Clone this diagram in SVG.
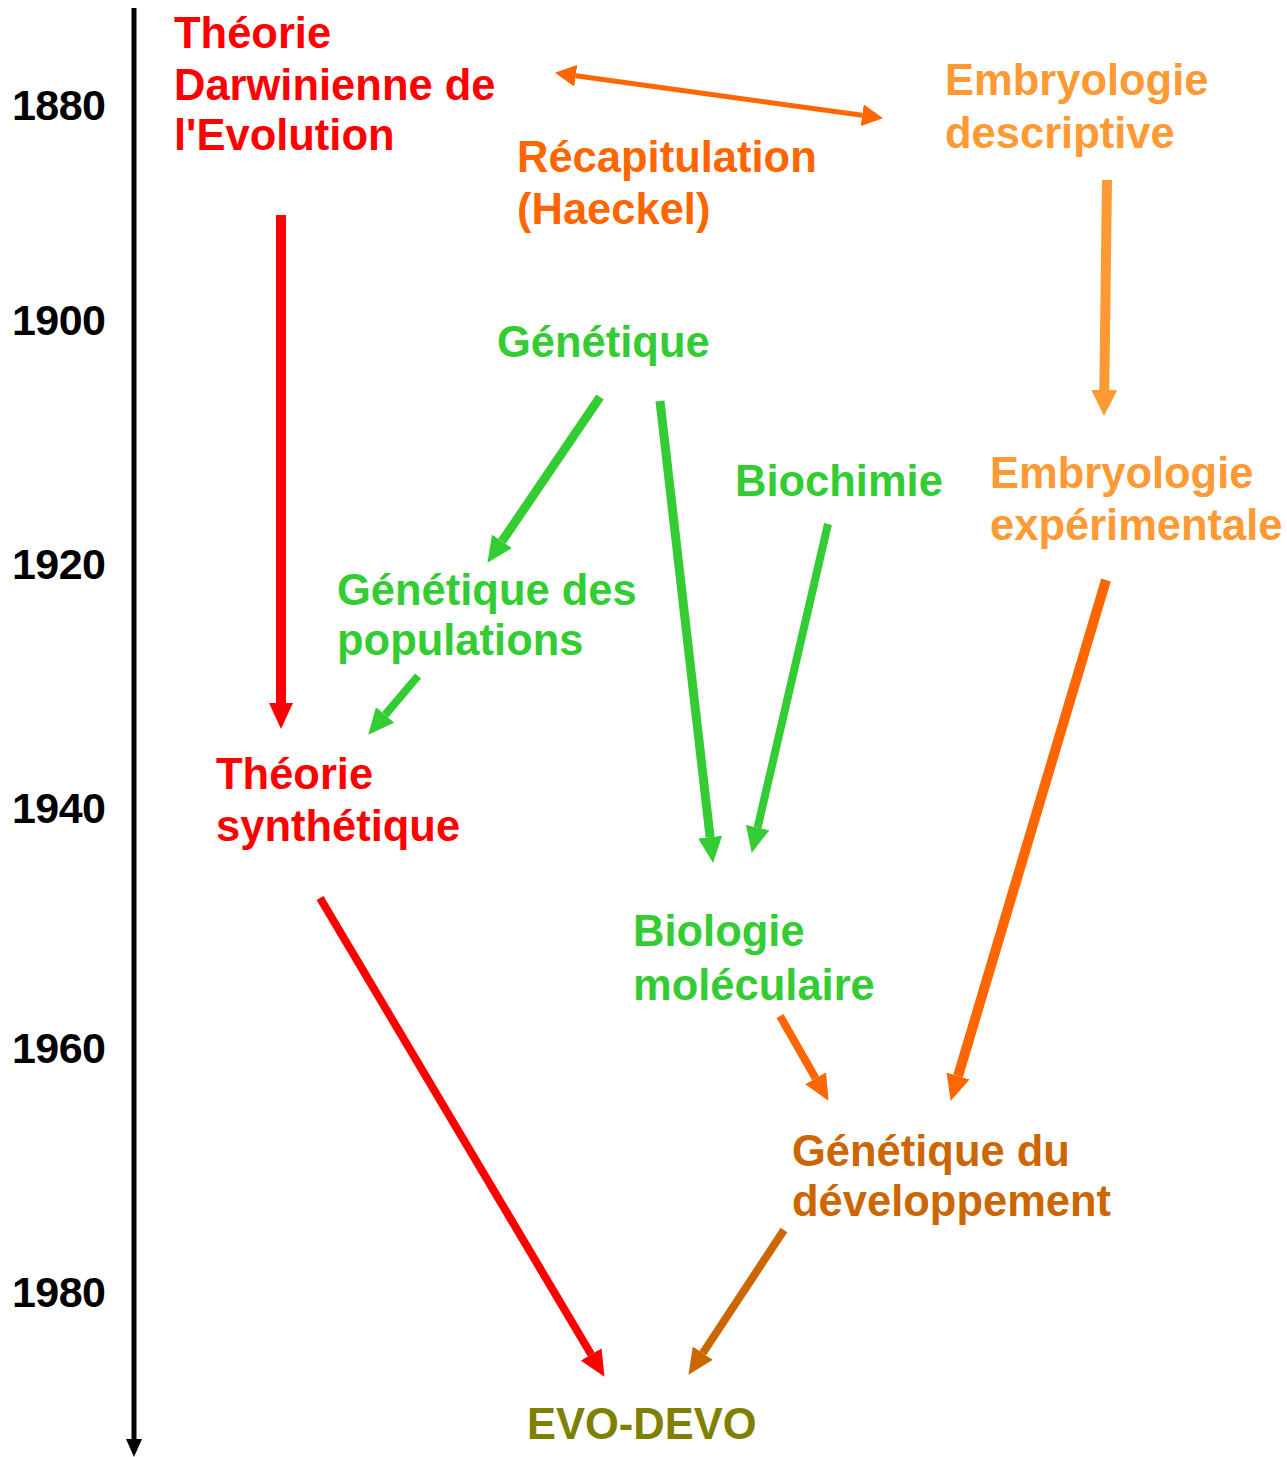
<svg xmlns="http://www.w3.org/2000/svg" width="1287" height="1457" viewBox="0 0 1287 1457">
<style>
text{font-family:"Liberation Sans",Arial,Helvetica,sans-serif;font-weight:bold;font-size:43.5px;letter-spacing:0px}
.yr{font-size:43px;letter-spacing:-0.6px}
.red{fill:#FF0000}.org{fill:#FF6600}.lor{fill:#FF9933}.grn{fill:#33CC33}.brn{fill:#CC6600}.olv{fill:#808000}.blk{fill:#000}
line{fill:none;stroke-linecap:butt}
</style>
<defs>
<marker id="hRed" markerUnits="userSpaceOnUse" markerWidth="26" markerHeight="24" refX="0" refY="12" orient="auto"><path d="M0,0 L26,12 L0,24 z" fill="#FF0000"/></marker>
<marker id="hGrn" markerUnits="userSpaceOnUse" markerWidth="26" markerHeight="24" refX="0" refY="12" orient="auto"><path d="M0,0 L26,12 L0,24 z" fill="#33CC33"/></marker>
<marker id="hOrg" markerUnits="userSpaceOnUse" markerWidth="26" markerHeight="24" refX="0" refY="12" orient="auto"><path d="M0,0 L26,12 L0,24 z" fill="#FF6600"/></marker>
<marker id="hLor" markerUnits="userSpaceOnUse" markerWidth="26" markerHeight="26" refX="0" refY="13" orient="auto"><path d="M0,0 L26,13 L0,26 z" fill="#FF9933"/></marker>
<marker id="hBrn" markerUnits="userSpaceOnUse" markerWidth="26" markerHeight="24" refX="0" refY="12" orient="auto"><path d="M0,0 L26,12 L0,24 z" fill="#CC6600"/></marker>
<marker id="hDbl" markerUnits="userSpaceOnUse" markerWidth="21" markerHeight="22" refX="0" refY="11" orient="auto-start-reverse"><path d="M0,0 L21,11 L0,22 z" fill="#FF6600"/></marker>
<marker id="hBlk" markerUnits="userSpaceOnUse" markerWidth="18" markerHeight="16" refX="0" refY="8" orient="auto"><path d="M0,0 L18,8 L0,16 z" fill="#000"/></marker>
</defs>

<g id="axis">
<line x1="134" y1="8" x2="134" y2="1439" stroke="#000" stroke-width="5" marker-end="url(#hBlk)"/>
<text class="blk yr" x="12" y="120">1880</text>
<text class="blk yr" x="12" y="335">1900</text>
<text class="blk yr" x="12" y="579">1920</text>
<text class="blk yr" x="12" y="823">1940</text>
<text class="blk yr" x="12" y="1063">1960</text>
<text class="blk yr" x="12" y="1307">1980</text>
</g>

<g id="connectors">
<line x1="281" y1="215" x2="281" y2="703" stroke="#FF0000" stroke-width="10" marker-end="url(#hRed)"/>
<line x1="600" y1="397" x2="502" y2="541.3" stroke="#33CC33" stroke-width="9" marker-end="url(#hGrn)"/>
<line x1="660" y1="401" x2="710.1" y2="837.2" stroke="#33CC33" stroke-width="9" marker-end="url(#hGrn)"/>
<line x1="828" y1="524" x2="757.6" y2="827.6" stroke="#33CC33" stroke-width="8" marker-end="url(#hGrn)"/>
<line x1="418" y1="676" x2="385.1" y2="714.9" stroke="#33CC33" stroke-width="8" marker-end="url(#hGrn)"/>
<line x1="320" y1="898" x2="591.2" y2="1354.5" stroke="#FF0000" stroke-width="8" marker-end="url(#hRed)"/>
<line x1="780" y1="1016" x2="815.6" y2="1078.3" stroke="#FF6600" stroke-width="8" marker-end="url(#hOrg)"/>
<line x1="1106" y1="580" x2="958.1" y2="1076" stroke="#FF6600" stroke-width="10" marker-end="url(#hOrg)"/>
<line x1="1107" y1="180" x2="1104.3" y2="390" stroke="#FF9933" stroke-width="10" marker-end="url(#hLor)"/>
<line x1="575.8" y1="75.7" x2="862.2" y2="115.3" stroke="#FF6600" stroke-width="5" marker-start="url(#hDbl)" marker-end="url(#hDbl)"/>
<line x1="784" y1="1230" x2="702.8" y2="1353.1" stroke="#CC6600" stroke-width="8" marker-end="url(#hBrn)"/>
</g>

<g id="darwin"><text class="red" x="174" y="48">Théorie</text><text class="red" x="174" y="100">Darwinienne de</text><text class="red" x="174" y="150">l'Evolution</text></g>
<g id="recapitulation"><text class="org" x="517" y="172">Récapitulation</text><text class="org" x="517" y="224">(Haeckel)</text></g>
<g id="embryo-desc"><text class="lor" x="945" y="95">Embryologie</text><text class="lor" x="945" y="148">descriptive</text></g>
<g id="genetique"><text class="grn" x="497" y="357">Génétique</text></g>
<g id="biochimie"><text class="grn" x="735" y="496">Biochimie</text></g>
<g id="embryo-exp"><text class="lor" x="990" y="488">Embryologie</text><text class="lor" x="990" y="540">expérimentale</text></g>
<g id="gen-pop"><text class="grn" x="337" y="605">Génétique des</text><text class="grn" x="337" y="655">populations</text></g>
<g id="synthetique"><text class="red" x="216" y="789">Théorie</text><text class="red" x="216" y="841">synthétique</text></g>
<g id="bio-mol"><text class="grn" x="633" y="946">Biologie</text><text class="grn" x="633" y="1000">moléculaire</text></g>
<g id="gen-dev"><text class="brn" x="792" y="1166">Génétique du</text><text class="brn" x="792" y="1216">développement</text></g>
<g id="evodevo"><text class="olv" x="527" y="1439">EVO-DEVO</text></g>
</svg>
